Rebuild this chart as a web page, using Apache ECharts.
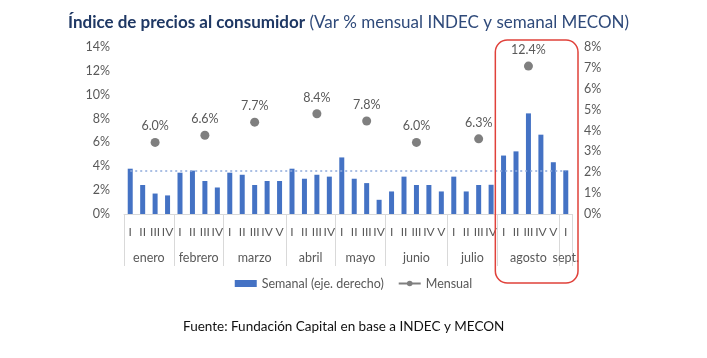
<!DOCTYPE html>
<html><head><meta charset="utf-8">
<script src="https://cdn.jsdelivr.net/npm/echarts@6/dist/echarts.min.js"></script>
<style>html,body{margin:0;padding:0;background:#fff}#c{width:707px;height:358px}</style>
</head><body><div id="c"></div>
<script>
const months = ['enero','febrero','marzo','abril','mayo','junio','julio','agosto','sept.'];
const weeksPerMonth = [4,4,5,4,4,5,4,5,1];
const weekLabels = ['I','II','III','IV','I','II','III','IV','I','II','III','IV','V','I','II','III','IV','I','II','III','IV','I','II','III','IV','V','I','II','III','IV','I','II','III','IV','V','I'];
const weekly = [2.17,1.39,0.98,0.89, 1.98,2.08,1.58,1.27, 1.98,1.88,1.39,1.58,1.58, 2.17,1.69,1.88,1.79, 2.71,1.69,1.48,0.68, 1.08,1.79,1.39,1.39,1.08, 1.79,1.08,1.39,1.40, 2.80,3.00,4.82,3.80,2.48, 2.09];
const monthly = [6.0,6.6,7.7,8.4,7.8,6.0,6.3,12.4,null];
const refWeekly = 2.07;
const leftTicks = {min:0,max:14,interval:2};
const rightTicks = {min:0,max:8,interval:1};

const FONT = 'Lato';
const cats = weekLabels.map((w,i)=>'c'+i);
const monthStart = [];
let s=0; weeksPerMonth.forEach(n=>{monthStart.push(s); s+=n;});
const monthlySeries = cats.map(()=>null);
monthly.forEach((v,m)=>{ if(v!=null) monthlySeries[monthStart[m]+2]=v; });
const monthCenter = {};
months.forEach((m,i)=>{ monthCenter[(monthStart[i]+weeksPerMonth[i]/2).toFixed(1)] = m; });
const boundarySet = new Set(monthStart);

const chart = echarts.init(document.getElementById('c'));
const gray='#595959';
chart.setOption({
  animation:false,
  textStyle:{fontFamily:FONT},
  title:{left:63,top:9,text:'{b|Índice de precios al consumidor} {n|(Var % mensual INDEC y semanal MECON)}',
    textStyle:{rich:{b:{fontFamily:FONT,fontWeight:'bold',fontSize:17,color:'#1F3864'},n:{fontFamily:FONT,fontWeight:'normal',fontSize:17,color:'#2F4A7A'}}}},
  grid:{left:124,right:135,top:47,bottom:144},
  legend:{left:'center',top:272,itemWidth:22,itemHeight:7,itemGap:14,textStyle:{color:gray,fontSize:12.5,fontFamily:FONT},
    data:[{name:'Semanal (eje. derecho)',icon:'rect'},{name:'Mensual'}]},
  xAxis:[{type:'category',data:cats,boundaryGap:true,
      axisLine:{lineStyle:{color:'#D9D9D9'}},
      axisTick:{show:true,length:52,lineStyle:{color:'#D9D9D9'},interval:(i)=>boundarySet.has(i)},
      axisLabel:{interval:0,margin:12,color:gray,fontSize:12,fontFamily:FONT,formatter:(v,i)=>weekLabels[i]}},
    {type:'value',min:0,max:weekLabels.length,interval:0.5,position:'bottom',
      axisLine:{show:false},axisTick:{show:false},splitLine:{show:false},
      axisLabel:{margin:37,color:gray,fontSize:12.5,fontFamily:FONT,showMinLabel:true,showMaxLabel:true,
        formatter:(v)=>monthCenter[v.toFixed(1)]||''}}],
  yAxis:[{type:'value',position:'left',...leftTicks,splitLine:{show:false},axisLine:{show:false},axisTick:{show:false},
      axisLabel:{formatter:'{value}%',color:gray,fontSize:12.5,fontFamily:FONT,margin:14}},
    {type:'value',position:'right',...rightTicks,splitLine:{show:false},axisLine:{show:false},axisTick:{show:false},
      axisLabel:{formatter:'{value}%',color:gray,fontSize:12.5,fontFamily:FONT,margin:12}}],
  series:[
    {name:'Semanal (eje. derecho)',type:'bar',yAxisIndex:1,data:weekly,barWidth:5,itemStyle:{color:'#4472C4'},
      markLine:{silent:true,symbol:'none',label:{show:false},lineStyle:{color:'#8FAADC',type:[2,3],width:1.5},
        data:[[{coord:[0,refWeekly]},{coord:[weekly.length-1,refWeekly]}]]}},
    {name:'Mensual',type:'line',yAxisIndex:0,data:monthlySeries,connectNulls:false,symbol:'circle',symbolSize:9,
      itemStyle:{color:'#7F7F7F'},lineStyle:{color:'#7F7F7F',width:2.5},
      label:{show:true,position:'top',distance:5,color:gray,fontSize:12.5,fontFamily:FONT,formatter:(p)=>p.value.toFixed(1)+'%'}}
  ]
});
const band = chart.convertToPixel({xAxisIndex:0},cats[1]) - chart.convertToPixel({xAxisIndex:0},cats[0]);
const x0 = chart.convertToPixel({xAxisIndex:0},cats[monthStart[7]]) - band/2 - 2;
const x1 = chart.convertToPixel({xAxisIndex:0},cats[cats.length-1]) + band/2 + 6;
chart.setOption({graphic:[
  {type:'rect',shape:{x:x0,y:40,width:x1-x0,height:243,r:12},style:{fill:'none',stroke:'#E0413A',lineWidth:1.5},z:100},
  {type:'text',left:183,top:320,style:{text:'Fuente: Fundación Capital en base a INDEC y MECON',fontFamily:FONT,fontSize:13.5,fill:'#111'}}
]});
</script></body></html>
